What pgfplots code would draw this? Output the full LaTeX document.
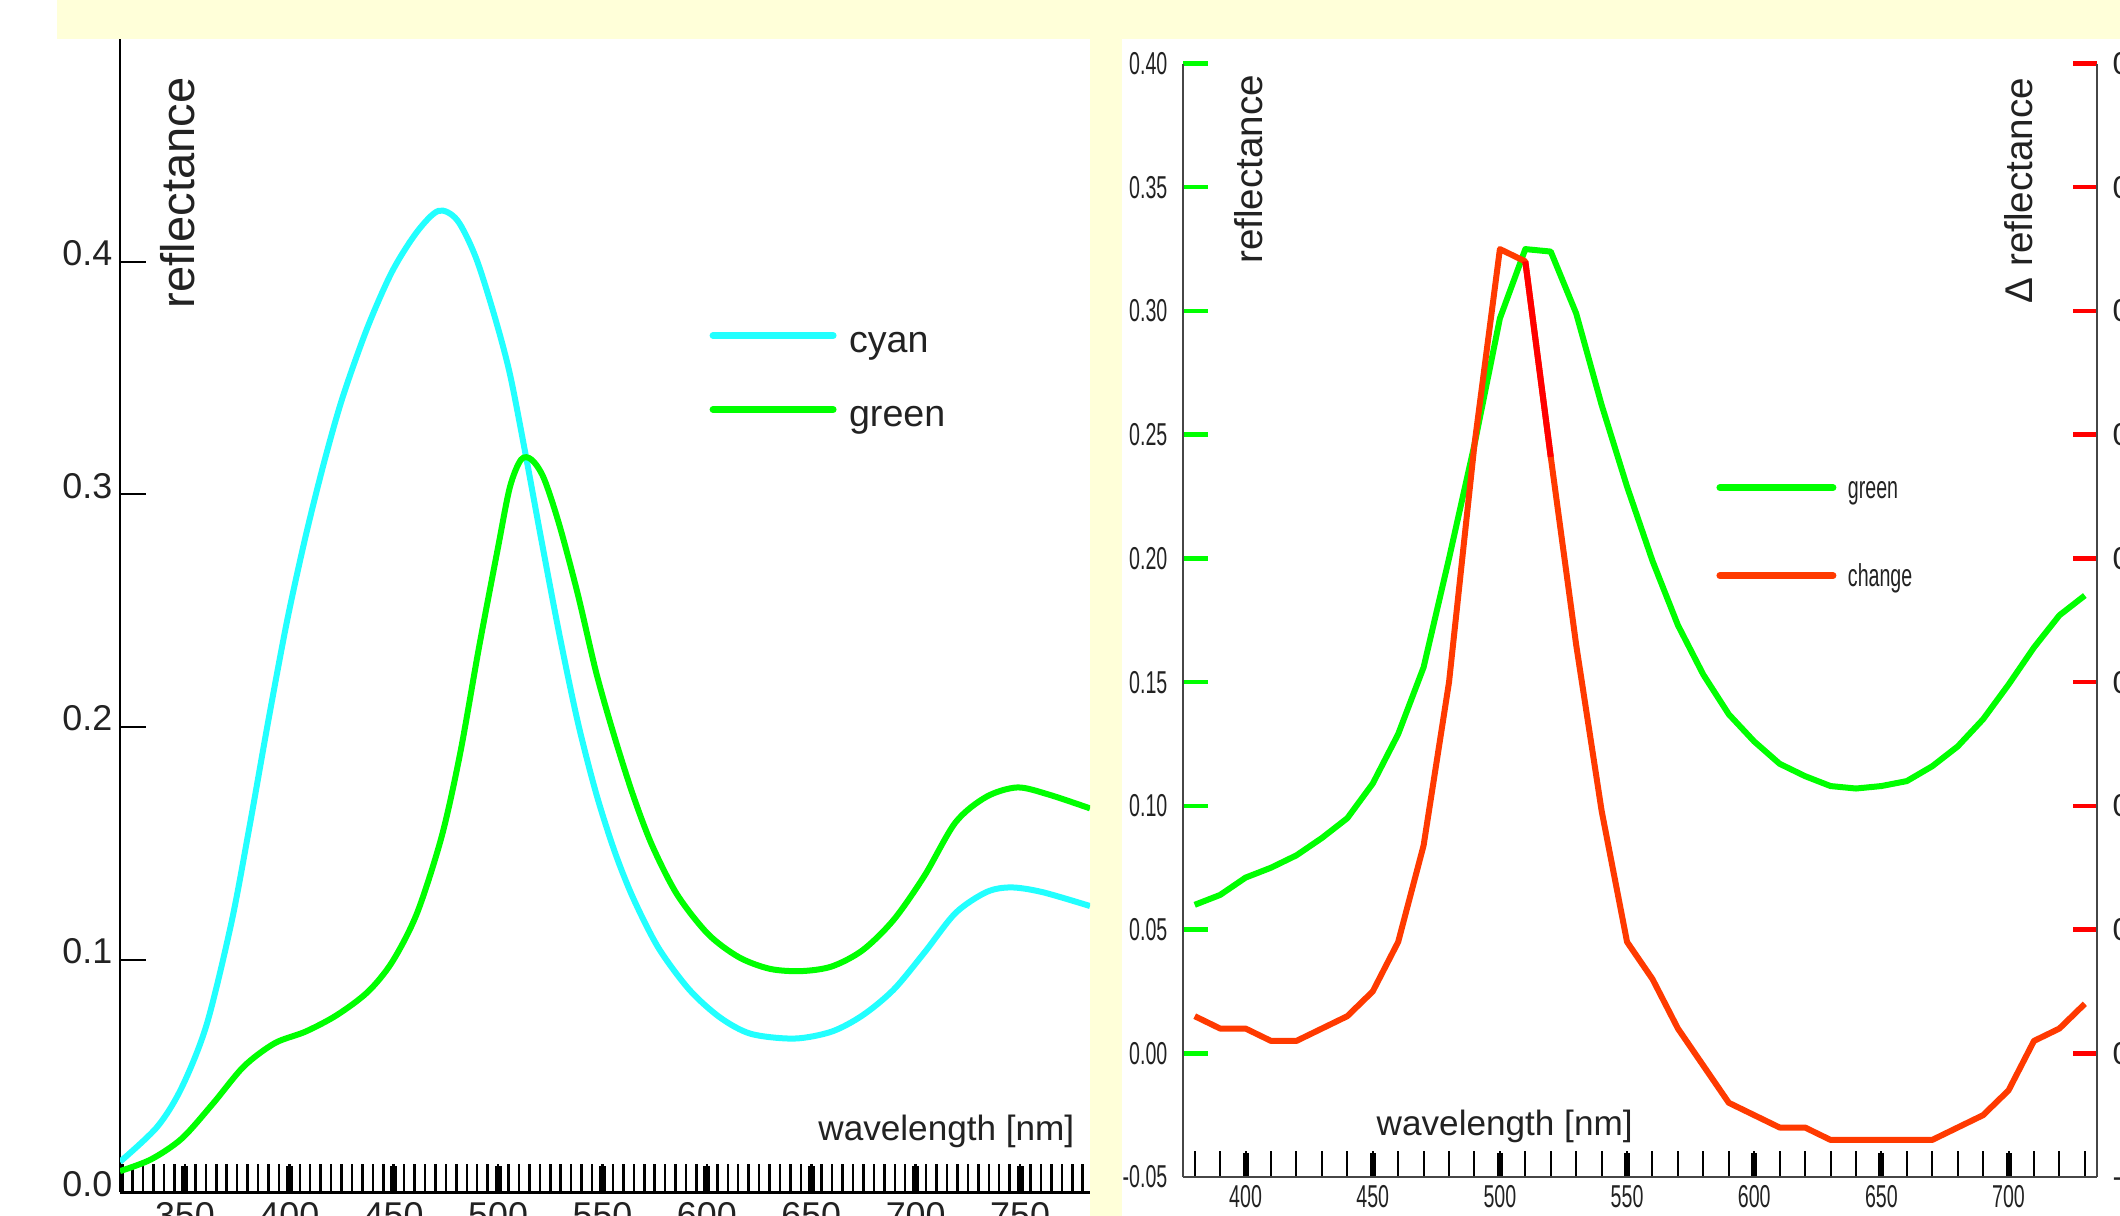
\documentclass[border=0pt]{standalone}
\usepackage{pgfplots}
\pgfplotsset{compat=1.18}
\usepackage{fontspec}
\setmainfont{Liberation Sans}
\newfontfamily\narrowfont[FakeStretch=0.62]{Liberation Sans}
\definecolor{bgyellow}{RGB}{255,255,217}
\definecolor{cyanline}{RGB}{34,255,255}
\definecolor{greenline}{RGB}{0,255,0}
\definecolor{changeline}{RGB}{255,58,0}
\definecolor{redline}{RGB}{255,0,0}
\definecolor{txt}{RGB}{34,34,34}
\definecolor{axgray}{RGB}{70,70,70}

\pgfplotstableread{
wl r
318.9 0.013
336.7 0.028
348.5 0.045
360.4 0.072
372.3 0.116
381.1 0.158
390.0 0.203
399.0 0.246
407.8 0.282
416.7 0.314
425.6 0.342
437.5 0.372
449.3 0.396
461.2 0.413
471.5 0.422
480.4 0.418
489.3 0.402
498.2 0.377
505.6 0.352
513.0 0.318
520.4 0.282
529.3 0.240
538.2 0.202
547.1 0.171
556.0 0.146
564.9 0.126
576.8 0.105
591.6 0.087
606.4 0.075
621.2 0.068
642.0 0.066
659.8 0.069
674.6 0.076
689.4 0.087
704.2 0.103
719.1 0.120
733.9 0.129
745.7 0.131
760.6 0.129
783.5 0.123
}\cyantab

\pgfplotstableread{
wl r
318.9 0.009
333.7 0.014
348.5 0.023
363.4 0.038
378.2 0.054
393.0 0.064
407.8 0.069
422.6 0.076
437.5 0.086
449.3 0.099
461.2 0.120
473.0 0.153
481.9 0.189
490.8 0.234
499.7 0.276
505.6 0.303
511.0 0.315
516.0 0.315
521.9 0.307
529.3 0.287
538.2 0.257
547.1 0.223
556.0 0.195
564.9 0.170
573.8 0.149
585.7 0.128
600.5 0.111
615.3 0.101
630.1 0.096
645.0 0.095
659.8 0.097
674.6 0.104
689.4 0.117
704.2 0.136
719.1 0.159
733.9 0.170
748.7 0.174
763.5 0.171
783.5 0.165
}\greenleft

\pgfplotstableread{
wl r
380 0.060
390 0.064
400 0.071
410 0.075
420 0.080
430 0.087
440 0.095
450 0.109
460 0.129
470 0.156
480 0.200
490 0.246
500 0.297
510 0.325
520 0.324
530 0.299
540 0.262
550 0.229
560 0.199
570 0.173
580 0.153
590 0.137
600 0.126
610 0.117
620 0.112
630 0.108
640 0.107
650 0.108
660 0.110
670 0.116
680 0.124
690 0.135
700 0.149
710 0.164
720 0.177
730 0.185
}\greenright

\pgfplotstableread{
wl r
380 0.015
390 0.010
400 0.010
410 0.005
420 0.005
430 0.010
440 0.015
450 0.025
460 0.045
470 0.084
480 0.150
490 0.246
500 0.325
510 0.320
520 0.241
530 0.165
540 0.098
550 0.045
560 0.030
570 0.010
580 -0.005
590 -0.020
600 -0.025
610 -0.030
620 -0.030
630 -0.035
640 -0.035
650 -0.035
660 -0.035
670 -0.035
680 -0.030
690 -0.025
700 -0.015
710 0.005
720 0.010
730 0.020
}\changetab

\pgfplotstableread{
wl r
510 0.320
520 0.241
}\changered

\begin{document}
\begin{tikzpicture}
\path[use as bounding box] (0,0) rectangle (21.2,-12.16);
\clip (0,0) rectangle (21.2,-12.16);
\fill[white] (0,0) rectangle (21.2,-12.16);
\fill[bgyellow] (0.57,0) rectangle (21.2,-0.39);
\fill[bgyellow] (10.90,-0.39) rectangle (11.22,-12.16);

% ---------------- left panel ----------------
\begin{axis}[
  at={(1.20cm,-11.92cm)}, anchor=south west, scale only axis,
  width=9.70cm, height=11.53cm,
  xmin=318.9, xmax=783.5, ymin=0, ymax=0.4959,
  axis x line*=bottom, axis y line*=left,
  x axis line style={-, line width=0.03cm, black},
  y axis line style={-, line width=0.02cm, black},
  xtick pos=left, ytick pos=left, tick align=inside,
  xtick={350,400,450,500,550,600,650,700,750},
  minor xtick={320,325,...,780},
  major tick length=0.26cm, minor tick length=0.28cm,
  every major x tick/.append style={line width=0.07cm, black},
  every minor x tick/.append style={line width=0.025cm, black},
  ytick={0,0.1,0.2,0.3,0.4},
  every major y tick/.append style={line width=0.02cm, black},
  /pgf/number format/assume math mode=true,
  y tick label style={/pgf/number format/.cd, fixed, fixed zerofill, precision=1, /tikz/.cd},
  yticklabel style={anchor=base east, inner sep=0pt, xshift=-0.07cm, yshift=-0.04cm, font=\fontsize{10.2}{12}\selectfont, text=txt},
  xticklabel style={anchor=north, inner sep=0pt, yshift=-0.1cm, font=\fontsize{10.2}{12}\selectfont, text=txt},
  legend cell align=left,
  legend image code/.code={\draw[#1, line width=0.07cm, line cap=round] (0cm,0.08cm) -- (1.20cm,0.08cm);},
  legend style={draw=none, fill=none, at={(0.6078,0.7502)}, anchor=north west,
    inner sep=0pt, outer sep=0pt, row sep=0.41cm, column sep=0.125cm,
    font=\fontsize{10.7}{12}\selectfont, text=txt,
    nodes={inner sep=0pt, text height=0.25cm, text depth=0.08cm}},
]
\addplot[cyanline, line width=0.06cm, smooth] table[x=wl, y=r] {\cyantab};
\addlegendentry{cyan}
\addplot[greenline, line width=0.06cm, smooth] table[x=wl, y=r] {\greenleft};
\addlegendentry{green}
\end{axis}

% ---------------- right panel ----------------
\begin{axis}[
  at={(11.83cm,-11.77cm)}, anchor=south west, scale only axis,
  width=9.14cm, height=11.135cm,
  xmin=375.4, xmax=734.8, ymin=-0.05, ymax=0.40,
  axis x line*=bottom, axis y line*=left,
  x axis line style={-, line width=0.025cm, axgray},
  y axis line style={-, line width=0.025cm, axgray},
  xtick pos=left, ytick pos=left, tick align=inside,
  xtick={400,450,500,550,600,650,700},
  minor xtick={380,390,...,730},
  major tick length=0.245cm, minor tick length=0.26cm,
  every major x tick/.append style={line width=0.06cm, black},
  every minor x tick/.append style={line width=0.02cm, black},
  ytick={0,0.05,0.1,0.15,0.2,0.25,0.3,0.35,0.4},
  every major y tick/.append style={line width=0.045cm, greenline},
  extra y ticks={-0.05},
  extra y tick style={tick style={draw=none}},
  /pgf/number format/assume math mode=true,
  y tick label style={/pgf/number format/.cd, fixed, fixed zerofill, precision=2, /tikz/.cd},
  yticklabel style={anchor=east, inner sep=0pt, xshift=-0.15cm, font=\narrowfont\fontsize{9}{10}\selectfont, text=txt},
  xticklabel style={anchor=north, inner sep=0pt, yshift=-0.08cm, font=\narrowfont\fontsize{9}{10}\selectfont, text=txt},
  legend cell align=left,
  legend image code/.code={\draw[#1, line width=0.07cm, line cap=round] (0cm,0.04cm) -- (1.13cm,0.04cm);},
  legend style={draw=none, fill=none, at={(0.5836,0.6277)}, anchor=north west,
    inner sep=0pt, outer sep=0pt, row sep=0.61cm, column sep=0.115cm,
    font=\narrowfont\fontsize{9}{10}\selectfont, text=txt,
    nodes={inner sep=0pt, text height=0.2cm, text depth=0.07cm}},
]
\addplot[greenline, line width=0.06cm, line join=round] table[x=wl, y=r] {\greenright};
\addlegendentry{green}
\addplot[changeline, line width=0.06cm, line join=round] table[x=wl, y=r] {\changetab};
\addlegendentry{change}
\addplot[redline, line width=0.06cm, forget plot] table[x=wl, y=r] {\changered};
\end{axis}

\begin{axis}[
  at={(11.83cm,-11.77cm)}, anchor=south west, scale only axis,
  width=9.14cm, height=11.135cm,
  xmin=375.4, xmax=734.8, ymin=-0.05, ymax=0.40,
  axis x line=none, axis y line*=right,
  y axis line style={-, line width=0.025cm, axgray},
  xtick=\empty, ytick pos=right, tick align=inside,
  major tick length=0.245cm,
  ytick={0,0.05,0.1,0.15,0.2,0.25,0.3,0.35,0.4},
  every major y tick/.append style={line width=0.045cm, redline},
  extra y ticks={-0.05},
  extra y tick style={tick style={draw=none}},
  /pgf/number format/assume math mode=true,
  y tick label style={/pgf/number format/.cd, fixed, fixed zerofill, precision=2, /tikz/.cd},
  yticklabel style={anchor=west, inner sep=0pt, xshift=0.15cm, font=\fontsize{9}{10}\selectfont, text=txt},
]
\addplot[draw=none, forget plot] coordinates {(400,0)};
\end{axis}

% axis titles
\node[rotate=90, anchor=base east, inner sep=0pt, font=\fontsize{13.4}{15}\selectfont, text=txt] at (1.94,-0.77) {reflectance};
\node[rotate=90, anchor=base east, inner sep=0pt, font=\fontsize{11}{13}\selectfont, text=txt] at (12.62,-0.74) {reflectance};
\node[rotate=90, anchor=base east, inner sep=0pt, font=\fontsize{11}{13}\selectfont, text=txt] at (20.32,-0.77) {Δ reflectance};
\node[anchor=base east, inner sep=0pt, font=\fontsize{10}{12}\selectfont, text=txt] at (10.75,-11.40) {wavelength [nm]};
\node[anchor=base west, inner sep=0pt, font=\fontsize{10}{12}\selectfont, text=txt] at (13.76,-11.35) {wavelength [nm]};
\end{tikzpicture}
\end{document}
